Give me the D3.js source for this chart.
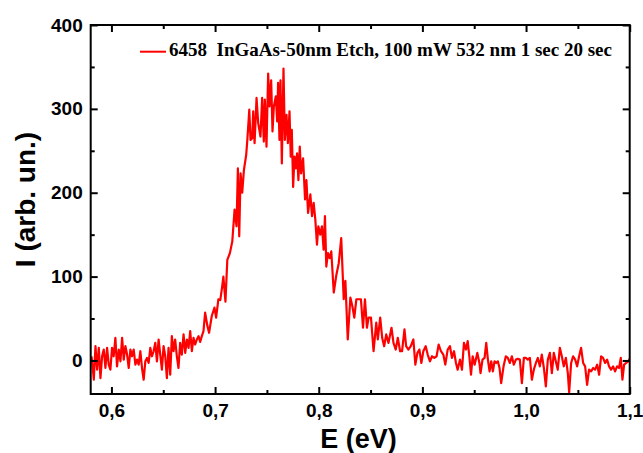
<!DOCTYPE html>
<html>
<head>
<meta charset="utf-8">
<script src="https://cdn.jsdelivr.net/npm/d3@7"></script>
<style>
  html, body { margin: 0; padding: 0; background: #fff; }
  svg { display: block; }
</style>
</head>
<body>
<svg id="chart" width="643" height="453"></svg>
<script>
// ---- Data ----
const xMajorTicks = [0.6, 0.7, 0.8, 0.9, 1.0, 1.1];
const xMinorTicks = [0.65, 0.75, 0.85, 0.95, 1.05];
const yMajorTicks = [0, 100, 200, 300, 400];
const yMinorTicks = [50, 150, 250, 350];
const xTitle = "E (eV)";
const yTitle = "I (arb. un.)";
const legendLabel = "6458  InGaAs-50nm Etch, 100 mW 532 nm 1 sec 20 sec";

// spectrum segments: [E (eV), I (arb. un.)]
const baselineLow = [
  [0.5808,5],[0.5815,-3],[0.5830,-23],[0.5846,17],[0.5862,-11],[0.5878,15],[0.5894,-21],[0.5910,5],
  [0.5926,13],[0.5942,-9],[0.5958,15],[0.5974,-5],[0.5990,-11],[0.6006,15],[0.6022,5],[0.6038,27],
  [0.6054,-7],[0.6071,13],[0.6087,-1],[0.6103,27],[0.6119,1],[0.6135,17],[0.6151,7],[0.6167,-9],
  [0.6183,13],[0.6199,5],[0.6215,13],[0.6231,-5],[0.6247,1],[0.6263,-5],[0.6279,11],[0.6295,-9],
  [0.6311,-23],[0.6327,-1],[0.6343,3],[0.6359,-3],[0.6375,15],[0.6391,5],[0.6407,11],[0.6423,21],
  [0.6439,-1],[0.6455,25],[0.6471,7],[0.6487,-11],[0.6503,17],[0.6519,5],[0.6535,-21],[0.6551,15],
  [0.6567,-17],[0.6583,29],[0.6599,11],[0.6615,25],[0.6631,5],[0.6647,-9],[0.6663,21],[0.6679,7],
  [0.6696,31],[0.6712,9],[0.6728,25],[0.6744,15],[0.6760,35],[0.6776,11],[0.6792,27],[0.6808,19],
  [0.6824,25],[0.6840,29],[0.6856,22],[0.6872,29],[0.6888,35],[0.6904,57],[0.6926,41],[0.6942,33],
  [0.6968,53],[0.6994,63],[0.7010,51],[0.7032,73]
];
const risingEdge = [
  [0.7050,72],[0.7066,86],[0.7080,100],[0.7100,70],[0.7118,120],[0.7143,128],[0.7166,142],[0.7188,180],
  [0.7207,160],[0.7220,229],[0.7233,148],[0.7246,223],[0.7262,200],[0.7278,227],[0.7300,245],[0.7310,261],
  [0.7330,299],[0.7342,263],[0.7358,265],[0.7368,297],[0.7381,259],[0.7400,313],[0.7416,283],[0.7438,267]
];
const peakTop = [
  [0.7454,313],[0.7470,261],[0.7480,311],[0.7496,255],[0.7512,342],[0.7525,303],[0.7541,334],[0.7554,273],
  [0.7567,303],[0.7586,315],[0.7599,285],[0.7608,331],[0.7621,263],[0.7631,334],[0.7644,235],[0.7660,348],
  [0.7673,263],[0.7689,293],[0.7702,259],[0.7718,297],[0.7730,243],[0.7740,275],[0.7753,207],[0.7766,243]
];
const fallingEdge = [
  [0.7779,229],[0.7791,247],[0.7804,215],[0.7817,255],[0.7830,223],[0.7849,241],[0.7868,192],[0.7881,215],
  [0.7897,176],[0.7919,198],[0.7935,172],[0.7951,188],[0.7967,168],[0.7983,138],[0.7996,160],[0.8015,150],
  [0.8031,160],[0.8047,132],[0.8060,172],[0.8073,112],[0.8089,128],[0.8105,122],[0.8121,130],[0.8145,81],
  [0.8170,102],[0.8193,116],[0.8217,146],[0.8241,73],[0.8257,95],[0.8280,25],[0.8305,75],[0.8324,65],
  [0.8343,51],[0.8363,73],[0.8385,73],[0.8407,73],[0.8427,39],[0.8446,73],[0.8465,39],[0.8481,51],
  [0.8504,51],[0.8529,11],[0.8555,45],[0.8570,25],[0.8593,51],[0.8612,27],[0.8631,17],[0.8651,31],
  [0.8673,21],[0.8702,39],[0.8721,21],[0.8743,13],[0.8763,27],[0.8785,11],[0.8804,11],[0.8827,37],
  [0.8843,17],[0.8865,13],[0.8888,17],[0.8913,25],[0.8932,-5],[0.8952,9],[0.8971,13],[0.8990,-3]
];
const tailMid = [
  [0.9009,11],[0.9032,17],[0.9051,7],[0.9073,-1],[0.9093,5],[0.9115,3],[0.9137,5],[0.9157,19],
  [0.9179,11],[0.9202,7],[0.9221,-5],[0.9244,13],[0.9266,17],[0.9285,3],[0.9305,11],[0.9324,-3],
  [0.9340,-11],[0.9363,1],[0.9382,-11],[0.9401,21],[0.9421,13],[0.9437,23],[0.9453,5],[0.9469,-17],
  [0.9485,5],[0.9504,-5],[0.9530,9],[0.9550,-3],[0.9561,-15],[0.9580,1],[0.9600,3],[0.9616,21],
  [0.9632,1],[0.9648,-13],[0.9664,-1],[0.9680,-13],[0.9696,-1],[0.9712,-3],[0.9728,-1],[0.9744,-9],
  [0.9760,-27],[0.9783,-7],[0.9805,5],[0.9824,3],[0.9844,-3],[0.9863,5],[0.9882,-5],[0.9902,1],
  [0.9921,2],[0.9940,1],[0.9960,-27],[0.9979,3]
];
const tailHigh = [
  [0.9998,3],[1.0017,1],[1.0037,3],[1.0056,-23],[1.0075,-11],[1.0095,-3],[1.0114,3],[1.0133,-7],
  [1.0152,7],[1.0172,-9],[1.0191,-31],[1.0210,1],[1.0230,9],[1.0249,-15],[1.0268,9],[1.0287,-1],
  [1.0306,-11],[1.0326,15],[1.0345,5],[1.0364,-7],[1.0384,3],[1.0403,-15],[1.0416,-38],[1.0435,-3],
  [1.0454,5],[1.0474,1],[1.0493,-7],[1.0512,5],[1.0531,15],[1.0551,-3],[1.0570,-7],[1.0589,-29],
  [1.0608,-11],[1.0628,-13],[1.0647,-9],[1.0666,-11],[1.0686,-5],[1.0705,-17],[1.0724,5],[1.0743,3],
  [1.0763,-3],[1.0782,1],[1.0801,-7],[1.0820,-11],[1.0840,-7],[1.0859,-13],[1.0878,-7],[1.0897,-9],
  [1.0914,3],[1.0930,-23],[1.0946,-5],[1.0965,-3],[1.0987,-1],[1.1000,2]
];
const spectrum = [].concat(baselineLow, risingEdge, peakTop, fallingEdge, tailMid, tailHigh);

// ---- Layout ----
const plot = { left: 90.7, right: 629.7, top: 25, bottom: 394 };
const x = d3.scaleLinear().domain([0.58, 1.1]).range([plot.left, plot.right]);
const y = d3.scaleLinear().domain([-40, 400]).range([plot.bottom, plot.top]);

const svg = d3.select("#chart");
const sansBold = "'Liberation Sans', Arial, 'DejaVu Sans', sans-serif";
const serifBold = "'Liberation Serif', 'Times New Roman', serif";

svg.append("defs").append("clipPath").attr("id", "clip")
  .append("rect")
  .attr("x", plot.left).attr("y", plot.top)
  .attr("width", plot.right - plot.left).attr("height", plot.bottom - plot.top);

// data line
const line = d3.line().x(d => x(d[0])).y(d => y(d[1]));
svg.append("path")
  .datum(spectrum)
  .attr("clip-path", "url(#clip)")
  .attr("fill", "none")
  .attr("stroke", "#ff0000")
  .attr("stroke-width", 2.2)
  .attr("stroke-linejoin", "round")
  .attr("d", line);

const fmtX = d => d3.format(".1f")(d).replace(".", ",");
const fmtY = d => d3.format("d")(d);

function styleAxis(g, withText) {
  g.select(".domain").remove();
  g.selectAll(".tick line").attr("stroke", "#000").attr("stroke-width", 2);
  if (withText) {
    g.selectAll(".tick text")
      .attr("fill", "#000")
      .style("font-family", sansBold)
      .style("font-weight", "bold")
      .style("font-size", "19px");
  }
}

// bottom
svg.append("g").attr("transform", `translate(0,${plot.bottom})`)
  .call(d3.axisBottom(x).tickValues(xMajorTicks).tickSize(-7).tickPadding(10).tickFormat(fmtX))
  .call(g => styleAxis(g, true));
svg.append("g").attr("transform", `translate(0,${plot.bottom})`)
  .call(d3.axisBottom(x).tickValues(xMinorTicks).tickSize(-4).tickFormat(""))
  .call(g => styleAxis(g, false));
// top
svg.append("g").attr("transform", `translate(0,${plot.top})`)
  .call(d3.axisTop(x).tickValues(xMajorTicks).tickSize(-7).tickFormat(""))
  .call(g => styleAxis(g, false));
svg.append("g").attr("transform", `translate(0,${plot.top})`)
  .call(d3.axisTop(x).tickValues(xMinorTicks).tickSize(-4).tickFormat(""))
  .call(g => styleAxis(g, false));
// left
svg.append("g").attr("transform", `translate(${plot.left},0)`)
  .call(d3.axisLeft(y).tickValues(yMajorTicks).tickSize(-7).tickPadding(8).tickFormat(fmtY))
  .call(g => styleAxis(g, true));
svg.append("g").attr("transform", `translate(${plot.left},0)`)
  .call(d3.axisLeft(y).tickValues(yMinorTicks).tickSize(-4).tickFormat(""))
  .call(g => styleAxis(g, false));
// right
svg.append("g").attr("transform", `translate(${plot.right},0)`)
  .call(d3.axisRight(y).tickValues(yMajorTicks).tickSize(-7).tickFormat(""))
  .call(g => styleAxis(g, false));
svg.append("g").attr("transform", `translate(${plot.right},0)`)
  .call(d3.axisRight(y).tickValues(yMinorTicks).tickSize(-4).tickFormat(""))
  .call(g => styleAxis(g, false));

// frame
svg.append("rect")
  .attr("x", plot.left).attr("y", plot.top)
  .attr("width", plot.right - plot.left).attr("height", plot.bottom - plot.top)
  .attr("fill", "none").attr("stroke", "#000").attr("stroke-width", 2);

// axis titles
svg.append("text")
  .attr("x", 358.5).attr("y", 448)
  .attr("text-anchor", "middle")
  .style("font-family", sansBold).style("font-weight", "bold").style("font-size", "27px")
  .text(xTitle);
svg.append("text")
  .attr("transform", "translate(35,199.5) rotate(-90)")
  .attr("text-anchor", "middle")
  .style("font-family", sansBold).style("font-weight", "bold").style("font-size", "28px")
  .text(yTitle);

// legend
svg.append("line")
  .attr("x1", 140).attr("x2", 166).attr("y1", 51.7).attr("y2", 51.7)
  .attr("stroke", "#ff0000").attr("stroke-width", 2);
svg.append("text")
  .attr("x", 169).attr("y", 55.7)
  .attr("xml:space", "preserve")
  .style("white-space", "pre")
  .style("font-family", serifBold).style("font-weight", "bold").style("font-size", "19px")
  .text(legendLabel);
</script>
</body>
</html>
